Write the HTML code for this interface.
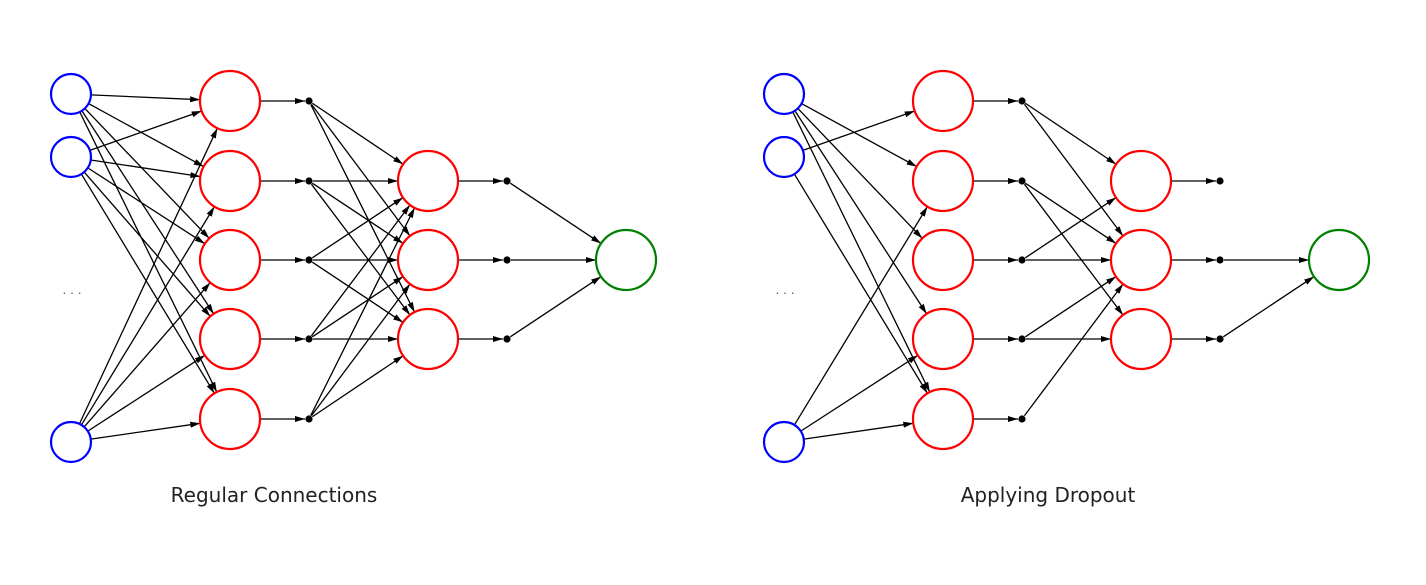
<!DOCTYPE html>
<html><head><meta charset="utf-8"><style>
html,body{margin:0;padding:0;background:#fff;}
svg{display:block;}
text{font-family:"DejaVu Sans","Liberation Sans",sans-serif;}
</style></head><body>
<svg id="s" width="1426" height="585" viewBox="0 0 1426 585" xmlns="http://www.w3.org/2000/svg">
<defs><marker id="a" markerWidth="10" markerHeight="7" refX="10" refY="3.5" orient="auto" markerUnits="userSpaceOnUse"><path d="M0,0.5 L10,3.5 L0,6.5 z" fill="#000"/></marker></defs>
<g id="g"></g>
<text x="274" y="502" font-size="20" text-anchor="middle" fill="#222">Regular Connections</text>
<text x="1048" y="502" font-size="20" text-anchor="middle" fill="#222">Applying Dropout</text>
<text x="72" y="294" font-size="12" text-anchor="middle" fill="#666">. . .</text>
<text x="785" y="294" font-size="12" text-anchor="middle" fill="#666">. . .</text>
</svg>
<script>
var g=document.getElementById('g'),NS='http://www.w3.org/2000/svg',out='';
function line(x1,y1,r1,x2,y2,r2){var dx=x2-x1,dy=y2-y1,d=Math.hypot(dx,dy),ux=dx/d,uy=dy/d;
out+='<line x1="'+(x1+ux*r1)+'" y1="'+(y1+uy*r1)+'" x2="'+(x2-ux*r2)+'" y2="'+(y2-uy*r2)+'" stroke="#000" stroke-width="1.3" marker-end="url(#a)"/>';}
function circ(x,y,r,c){out+='<circle cx="'+x+'" cy="'+y+'" r="'+r+'" fill="#fff" stroke="'+c+'" stroke-width="2.2"/>';}
function dot(x,y){out+='<circle cx="'+x+'" cy="'+y+'" r="3.6" fill="#000"/>';}
var IY=[94,157,442],HY=[101,181,260,339,419],GY=[181,260,339],OY=260;
function net(o,E1,E2,E3){
 var xi=71+o,xh=230+o,xd=309+o,xg=428+o,xe=507+o,xo=626+o;
 E1.forEach(function(e){line(xi,IY[e[0]],20,xh,HY[e[1]],30);});
 HY.forEach(function(y){line(xh,y,30,xd,y,4);});
 E2.forEach(function(e){line(xd,HY[e[0]],4,xg,GY[e[1]],30);});
 GY.forEach(function(y){line(xg,y,30,xe,y,4);});
 E3.forEach(function(e){line(xe,GY[e],4,xo,OY,30);});
 IY.forEach(function(y){circ(xi,y,20,'#0000ff');});
 HY.forEach(function(y){circ(xh,y,30,'#ff0000');dot(xd,y);});
 GY.forEach(function(y){circ(xg,y,30,'#ff0000');dot(xe,y);});
 circ(xo,OY,30,'#008000');
}
var A=[],B=[];for(var i=0;i<3;i++)for(var j=0;j<5;j++)A.push([i,j]);
for(var i=0;i<5;i++)for(var j=0;j<3;j++)B.push([i,j]);
net(0,A,B,[0,1,2]);
net(713,[[0,1],[0,2],[0,3],[0,4],[1,0],[1,4],[2,1],[2,3],[2,4]],
 [[0,0],[0,1],[1,1],[1,2],[2,0],[2,1],[3,1],[3,2],[4,1]],[1,2]);
g.innerHTML=out;
</script>
</body></html>
